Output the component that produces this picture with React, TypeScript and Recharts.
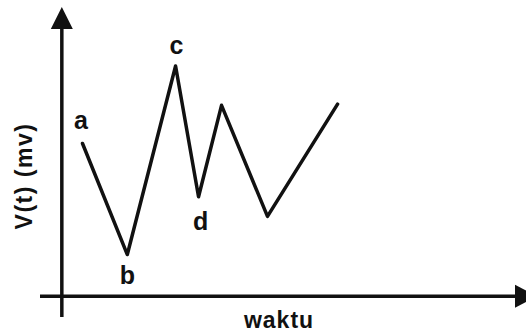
import { LineChart, Line, XAxis, YAxis, ReferenceLine, ReferenceDot, LabelList } from 'recharts';

// readings (time in arbitrary units, V in mV)
const times = [0.9, 2.85, 4.95, 5.95, 6.95, 8.95, 12];
const voltages = [6.6, 1.8, 9.95, 4.3, 8.25, 3.45, 8.3];
const pointNames = ['a', 'b', 'c', 'd', '', '', ''];

const xTitle = 'waktu';
const yTitle = 'V(t) (mv)';

const T_MIN = -0.95;
const T_MAX = 20.2;
const V_MIN = -0.9;
const V_MAX = 12.5;

const data = times.map((t, i) => ({ t, v: voltages[i], name: pointNames[i] }));

const INK = '#111';
const FONT = '"Liberation Sans", Arial, sans-serif';

// where each letter sits relative to its point
const nameOffset: Record<string, [number, number]> = {
  a: [-1.5, -14.5],
  b: [0, 29.5],
  c: [1, -11.5],
  d: [2, 33],
};

const PointName = (props: any) => {
  const { value } = props;
  if (!value) return null;
  const x = props.x ?? props.viewBox?.x;
  const y = props.y ?? props.viewBox?.y;
  const [dx, dy] = nameOffset[value] || [0, 0];
  return (
    <text x={x + dx} y={y + dy} textAnchor="middle" fontFamily={FONT} fontWeight="bold" fontSize={25} fill={INK}>
      {value}
    </text>
  );
};

const UpArrow = ({ cx, cy }: any) => (
  <polygon points={`${cx},${cy} ${cx - 11},${cy + 22} ${cx + 11},${cy + 22}`} fill={INK} />
);

const RightArrow = ({ cx, cy }: any) => (
  <polygon points={`${cx + 11},${cy} ${cx - 11},${cy - 11.5} ${cx - 11},${cy + 11.5}`} fill={INK} />
);

export default function App() {
  return (
    <div style={{ position: 'absolute', left: 0, top: 0, width: 526, height: 335, background: '#fff' }}>
      <LineChart width={526} height={335} data={data} margin={{ top: 7, right: 0, bottom: 18, left: 40 }}>
        <XAxis dataKey="t" type="number" domain={[T_MIN, T_MAX]} hide allowDataOverflow />
        <YAxis dataKey="v" type="number" domain={[V_MIN, V_MAX]} hide allowDataOverflow />

        <ReferenceLine segment={[{ x: T_MIN, y: 0 }, { x: 19.8, y: 0 }]} stroke={INK} strokeWidth={3.5} />
        <ReferenceLine segment={[{ x: 0, y: V_MIN }, { x: 0, y: 11.8 }]} stroke={INK} strokeWidth={3.5} />
        <ReferenceDot x={0} y={V_MAX} r={0} shape={UpArrow} />
        <ReferenceDot x={T_MAX} y={0} r={0} shape={RightArrow} />

        <Line
          type="linear"
          dataKey="v"
          stroke={INK}
          strokeWidth={3.5}
          strokeLinejoin="round"
          strokeLinecap="round"
          dot={false}
          activeDot={false}
          isAnimationActive={false}
        >
          <LabelList dataKey="name" content={PointName} />
        </Line>

        <text x={279} y={328} textAnchor="middle" fontFamily={FONT} fontWeight="bold" fontSize={23} letterSpacing={1} fill={INK}>
          {xTitle}
        </text>
        <text
          x={31.5}
          y={176}
          transform="rotate(-90, 31.5, 176)"
          textAnchor="middle"
          fontFamily={FONT}
          fontWeight="bold"
          fontSize={23}
          letterSpacing={1.5}
          fill={INK}
        >
          {yTitle}
        </text>
      </LineChart>
    </div>
  );
}
